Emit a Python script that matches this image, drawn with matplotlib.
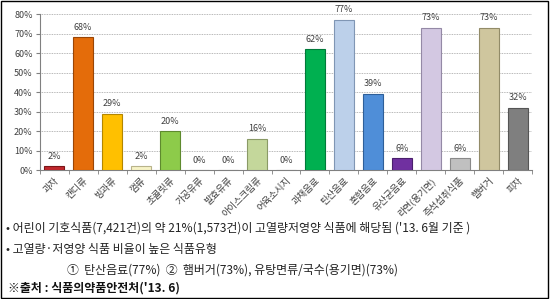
import matplotlib
matplotlib.use("Agg")
import matplotlib.pyplot as plt
import matplotlib as mpl
from matplotlib.patches import Rectangle

plt.rcParams['font.family'] = ['Noto Sans CJK KR', 'DejaVu Sans']

categories = ['과자', '캔디류', '빙과류', '껌류', '초콜릿류', '가공유류', '발효유류',
              '아이스크림류', '어육소시지', '과채음료', '탄산음료', '혼합음료',
              '유산균음료', '라면(용기면)', '즉석섭취식품', '햄버거', '피자']
values = [2, 68, 29, 2, 20, 0, 0, 16, 0, 62, 77, 39, 6, 73, 6, 73, 32]
colors = ['#C0272D', '#E46C0A', '#FFC000', '#F7F3C6', '#8DCB4A', '#DDDDDD', '#DDDDDD',
          '#C4D79B', '#DDDDDD', '#00B050', '#BCD0EA', '#4F8ED8', '#7030A0',
          '#D3C8E2', '#C0C0C0', '#CFC69E', '#7F7F7F']
edges = ['#7A1518', '#9A4606', '#B38600', '#B8B38A', '#5E8A2E', '#999999', '#999999',
         '#8A9A66', '#999999', '#007A3A', '#8096B4', '#2E5F99', '#4A1F6C',
         '#9489A6', '#8A8A8A', '#928B68', '#555555']
yticks = [0, 10, 20, 30, 40, 50, 60, 70, 80]

notes = [
    "• 어린이 기호식품(7,421건)의 약 21%(1,573건)이 고열량저영양 식품에 해당됨 ('13. 6월 기준 )",
    "• 고열량·저영양 식품 비율이 높은 식품유형",
    "①  탄산음료(77%)  ②  햄버거(73%), 유탕면류/국수(용기면)(73%)",
]
source = "※출처 : 식품의약품안전처('13. 6)"

fig = plt.figure(figsize=(5.5, 2.99), dpi=100)
ax = fig.add_axes([0.072, 0.431, 0.896, 0.522])

x = range(len(categories))
ax.bar(x, values, width=0.7, color=colors, edgecolor=edges, linewidth=0.8, zorder=3)
for i, v in enumerate(values):
    ax.annotate(f"{v}%", (i, v), xytext=(0, 4), textcoords='offset points',
                ha='center', va='bottom', fontsize=6.5, color='#404040')

ax.set_xlim(-0.5, len(categories) - 0.5)
ax.set_ylim(0, 80)
ax.set_yticks(yticks)
ax.set_yticklabels([f"{t}%" for t in yticks], fontsize=6.5, color='#404040')
ax.yaxis.grid(True, linestyle=(0, (1, 1)), color='#A0A0A0', linewidth=0.6, zorder=0)
ax.set_xticks(list(x))
ax.set_xticklabels(categories, rotation=45, ha='right', rotation_mode='anchor',
                   fontsize=6.8, color='#404040')
ax.tick_params(axis='x', length=0, pad=4)
ax.set_xticks([i - 0.5 for i in range(len(categories) + 1)], minor=True)
ax.tick_params(axis='x', which='minor', length=3, color='#808080')
ax.tick_params(axis='y', length=3, color='#808080', pad=2)
for s in ['top', 'right']:
    ax.spines[s].set_visible(False)
for s in ['left', 'bottom']:
    ax.spines[s].set_color('#808080')
    ax.spines[s].set_linewidth(0.8)

ys = [0.238, 0.165, 0.098]
xs = [0.010, 0.010, 0.122]
for t, xx, yy in zip(notes, xs, ys):
    fig.text(xx, yy, t, fontsize=8.6, va='center', ha='left', color='#222222')
fig.text(0.014, 0.036, source, fontsize=8.6, va='center', ha='left',
         fontweight='bold', color='#111111')

fig.patches.append(Rectangle((0.002, 0.004), 0.994, 0.992, transform=fig.transFigure,
                             fill=False, edgecolor='black', linewidth=1.0))

fig.savefig('out.png', dpi=100)
